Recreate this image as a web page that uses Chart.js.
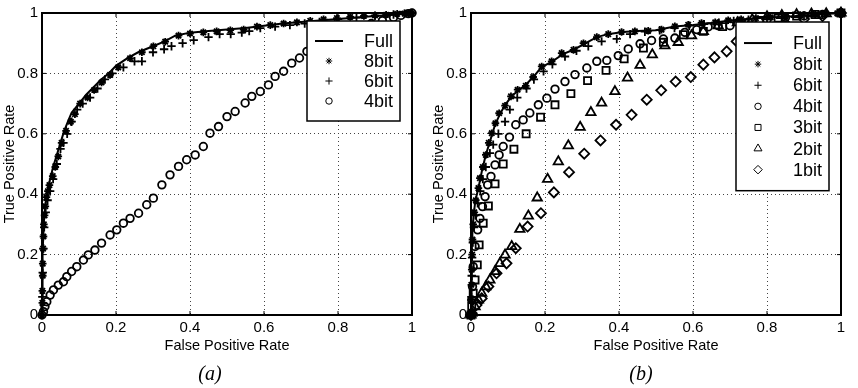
<!DOCTYPE html>
<html>
<head>
<meta charset="utf-8">
<script src="https://cdn.jsdelivr.net/npm/chart.js@4/dist/chart.umd.min.js"></script>
<style>
body { margin: 0; background: #fff; width: 858px; height: 388px; position: relative; overflow: hidden; }
.pane { position: absolute; top: 0; width: 429px; height: 388px; }
.cap { position: absolute; top: 362px; width: 60px; text-align: center; font: italic 20px "Liberation Serif", serif; color: #000; }
</style>
</head>
<body>
<div class="pane" style="left:0"><canvas id="rocA" width="429" height="388"></canvas></div>
<div class="pane" style="left:429px"><canvas id="rocB" width="429" height="388"></canvas></div>
<div class="cap" style="left:180px">(a)</div>
<div class="cap" style="left:611px">(b)</div>
<script>
// --- (a) ---
const fullA = [[0,0],[0.001,0.1],[0.002,0.2],[0.004,0.28],[0.006,0.33],[0.01,0.37],[0.015,0.41],[0.02,0.44],[0.03,0.49],[0.04,0.53],[0.05,0.57],[0.06,0.61],[0.07,0.64],[0.08,0.67],[0.1,0.7],[0.12,0.73],[0.14,0.755],[0.16,0.78],[0.18,0.8],[0.2,0.825],[0.23,0.85],[0.26,0.87],[0.3,0.89],[0.33,0.905],[0.36,0.925],[0.4,0.935],[0.45,0.94],[0.5,0.945],[0.55,0.95],[0.6,0.958],[0.65,0.965],[0.7,0.97],[0.75,0.975],[0.8,0.98],[0.85,0.985],[0.9,0.99],[0.95,0.994],[1,1]];
const bit8A = [[0,0],[0.001,0.04],[0.001,0.08],[0.002,0.13],[0.002,0.17],[0.003,0.22],[0.004,0.26],[0.005,0.3],[0.007,0.33],[0.009,0.36],[0.012,0.39],[0.016,0.41],[0.02,0.43],[0.029,0.46],[0.036,0.49],[0.044,0.525],[0.053,0.57],[0.065,0.61],[0.078,0.64],[0.089,0.665],[0.103,0.7],[0.123,0.72],[0.141,0.745],[0.161,0.77],[0.184,0.795],[0.206,0.82],[0.238,0.85],[0.27,0.87],[0.301,0.89],[0.333,0.905],[0.369,0.925],[0.4,0.932],[0.436,0.936],[0.472,0.939],[0.509,0.943],[0.545,0.945],[0.581,0.955],[0.617,0.96],[0.653,0.965],[0.689,0.969],[0.725,0.974],[0.761,0.979],[0.797,0.983],[0.833,0.987],[0.87,0.99],[0.9,0.992],[0.93,0.994],[0.96,0.997],[0.98,0.998],[0.99,0.999],[1,1]];
const bit6A = [[0,0],[0.001,0.06],[0.002,0.14],[0.004,0.22],[0.006,0.29],[0.01,0.34],[0.015,0.38],[0.022,0.41],[0.03,0.45],[0.04,0.5],[0.05,0.55],[0.058,0.57],[0.068,0.6],[0.08,0.64],[0.095,0.68],[0.11,0.7],[0.13,0.72],[0.15,0.75],[0.17,0.78],[0.19,0.8],[0.22,0.82],[0.25,0.84],[0.27,0.84],[0.3,0.87],[0.33,0.88],[0.35,0.89],[0.38,0.9],[0.41,0.91],[0.45,0.92],[0.48,0.93],[0.51,0.93],[0.54,0.935],[0.56,0.94],[0.59,0.95],[0.63,0.955],[0.67,0.96],[0.71,0.965],[0.75,0.97],[0.8,0.98],[0.85,0.985],[0.9,0.99],[0.95,0.995],[0.98,0.998],[1,1]];
const bit4A = [[0,0],[0.004,0.011],[0.008,0.028],[0.013,0.044],[0.022,0.066],[0.031,0.083],[0.044,0.099],[0.058,0.11],[0.067,0.127],[0.08,0.144],[0.094,0.16],[0.112,0.182],[0.125,0.199],[0.143,0.215],[0.161,0.238],[0.184,0.265],[0.202,0.282],[0.22,0.304],[0.238,0.32],[0.261,0.337],[0.283,0.365],[0.301,0.387],[0.324,0.431],[0.346,0.464],[0.369,0.492],[0.391,0.514],[0.414,0.53],[0.436,0.558],[0.454,0.602],[0.477,0.624],[0.5,0.657],[0.522,0.674],[0.549,0.702],[0.567,0.724],[0.59,0.74],[0.612,0.762],[0.63,0.79],[0.653,0.807],[0.675,0.834],[0.696,0.851],[0.716,0.873],[0.74,0.89],[0.77,0.91],[0.8,0.93],[0.83,0.94],[0.86,0.955],[0.89,0.965],[0.92,0.975],[0.95,0.985],[0.97,0.992],[0.99,0.998],[1,1]];

// --- (b) ---
const fullB = [[0,0],[0.001,0.1],[0.002,0.2],[0.004,0.28],[0.007,0.33],[0.012,0.38],[0.02,0.42],[0.03,0.48],[0.04,0.53],[0.05,0.57],[0.065,0.63],[0.08,0.67],[0.095,0.7],[0.11,0.725],[0.13,0.745],[0.15,0.765],[0.17,0.79],[0.19,0.82],[0.22,0.84],[0.25,0.865],[0.28,0.88],[0.31,0.9],[0.34,0.92],[0.37,0.93],[0.41,0.937],[0.45,0.94],[0.5,0.943],[0.55,0.955],[0.6,0.96],[0.65,0.967],[0.7,0.975],[0.75,0.98],[0.8,0.985],[0.85,0.988],[0.9,0.992],[0.95,0.996],[1,1]];
const bit8B = [[0,0],[0.001,0.05],[0.001,0.1],[0.002,0.15],[0.003,0.2],[0.004,0.25],[0.006,0.3],[0.009,0.34],[0.013,0.38],[0.02,0.42],[0.024,0.453],[0.032,0.49],[0.04,0.53],[0.048,0.57],[0.056,0.602],[0.066,0.635],[0.076,0.668],[0.092,0.693],[0.108,0.724],[0.126,0.746],[0.148,0.759],[0.168,0.788],[0.191,0.823],[0.218,0.84],[0.245,0.867],[0.277,0.878],[0.304,0.9],[0.34,0.92],[0.371,0.93],[0.407,0.937],[0.443,0.939],[0.479,0.941],[0.515,0.945],[0.551,0.956],[0.587,0.961],[0.623,0.967],[0.66,0.969],[0.695,0.976],[0.73,0.979],[0.77,0.983],[0.81,0.986],[0.85,0.989],[0.89,0.992],[0.93,0.995],[0.96,0.997],[0.99,0.999],[1,1]];
const bit6B = [[0,0],[0.001,0.06],[0.002,0.13],[0.003,0.19],[0.005,0.24],[0.008,0.29],[0.012,0.33],[0.018,0.37],[0.025,0.41],[0.032,0.45],[0.04,0.49],[0.051,0.536],[0.06,0.564],[0.074,0.6],[0.092,0.64],[0.105,0.68],[0.125,0.72],[0.15,0.75],[0.17,0.78],[0.196,0.807],[0.22,0.83],[0.254,0.856],[0.285,0.875],[0.317,0.89],[0.353,0.906],[0.394,0.914],[0.43,0.93],[0.47,0.938],[0.51,0.943],[0.55,0.95],[0.59,0.958],[0.63,0.963],[0.67,0.968],[0.71,0.974],[0.75,0.978],[0.8,0.984],[0.85,0.988],[0.9,0.992],[0.95,0.996],[1,1]];
const bit4B = [[0,0],[0.002,0.05],[0.004,0.094],[0.006,0.16],[0.011,0.227],[0.018,0.282],[0.024,0.32],[0.031,0.359],[0.038,0.392],[0.045,0.431],[0.054,0.459],[0.065,0.497],[0.076,0.53],[0.087,0.558],[0.104,0.589],[0.121,0.63],[0.141,0.646],[0.159,0.669],[0.182,0.696],[0.205,0.718],[0.227,0.748],[0.254,0.773],[0.281,0.796],[0.313,0.818],[0.34,0.84],[0.367,0.843],[0.398,0.859],[0.425,0.881],[0.457,0.898],[0.488,0.909],[0.52,0.914],[0.551,0.917],[0.578,0.936],[0.61,0.945],[0.641,0.954],[0.668,0.958],[0.7,0.958],[0.75,0.97],[0.8,0.978],[0.85,0.985],[0.9,0.99],[0.95,0.995],[1,1]];
const bit3B = [[0,0],[0.002,0.028],[0.006,0.072],[0.011,0.116],[0.017,0.166],[0.022,0.232],[0.033,0.304],[0.047,0.361],[0.065,0.434],[0.087,0.5],[0.116,0.549],[0.149,0.6],[0.188,0.655],[0.227,0.696],[0.27,0.733],[0.315,0.776],[0.365,0.81],[0.414,0.848],[0.466,0.884],[0.52,0.903],[0.574,0.928],[0.628,0.939],[0.68,0.955],[0.73,0.966],[0.78,0.975],[0.83,0.983],[0.88,0.99],[0.93,0.995],[1,1]];
const bit2B = [[0,0],[0.002,0.006],[0.011,0.028],[0.02,0.05],[0.029,0.072],[0.04,0.094],[0.051,0.116],[0.065,0.144],[0.078,0.171],[0.092,0.199],[0.11,0.227],[0.132,0.284],[0.155,0.328],[0.179,0.388],[0.207,0.45],[0.236,0.508],[0.263,0.561],[0.295,0.622],[0.324,0.671],[0.353,0.702],[0.389,0.74],[0.423,0.785],[0.457,0.827],[0.49,0.862],[0.524,0.892],[0.56,0.903],[0.596,0.925],[0.628,0.939],[0.668,0.958],[0.72,0.968],[0.76,0.978],[0.8,0.988],[0.84,0.992],[0.88,0.995],[0.92,0.997],[0.96,0.998],[1,1]];
const bit1B = [[0,0],[0.002,0.006],[0.015,0.033],[0.029,0.055],[0.047,0.094],[0.069,0.138],[0.096,0.171],[0.121,0.221],[0.153,0.293],[0.189,0.337],[0.224,0.406],[0.265,0.473],[0.306,0.534],[0.35,0.578],[0.392,0.63],[0.434,0.663],[0.475,0.713],[0.514,0.744],[0.553,0.773],[0.594,0.788],[0.628,0.829],[0.658,0.853],[0.691,0.873],[0.718,0.906],[0.76,0.93],[0.8,0.95],[0.85,0.965],[0.9,0.98],[0.95,0.99],[1,1]];

const axisTicks = [0, 0.2, 0.4, 0.6, 0.8, 1];

function line(label, pts) {
    return {
        label: label,
        data: pts.map(p => ({x: p[0], y: p[1]})),
        showLine: true,
        borderColor: '#000',
        borderWidth: 2,
        pointRadius: 0,
        pointHoverRadius: 0,
        legendKind: 'line'
    };
}

function marks(label, pts, style, r) {
    return {
        label: label,
        data: pts.map(p => ({x: p[0], y: p[1]})),
        showLine: false,
        pointStyle: style,
        pointRadius: r,
        pointHoverRadius: r,
        pointBorderColor: '#000',
        pointBackgroundColor: 'rgba(0,0,0,0)',
        pointBorderWidth: 1.8,
        legendKind: 'point'
    };
}

// ticks inside the box, the box itself and a boxed legend inside the plot
const matlabFrame = {
    id: 'matlabFrame',
    afterDatasetsDraw(chart, args, opts) {
        const ctx = chart.ctx;
        const a = chart.chartArea;
        const xs = chart.scales.x, ys = chart.scales.y;
        ctx.save();
        ctx.strokeStyle = '#000';
        ctx.lineWidth = 1;
        ctx.beginPath();
        axisTicks.forEach(v => {
            const px = xs.getPixelForValue(v);
            const py = ys.getPixelForValue(v);
            ctx.moveTo(px, a.bottom); ctx.lineTo(px, a.bottom - 4);
            ctx.moveTo(px, a.top); ctx.lineTo(px, a.top + 4);
            ctx.moveTo(a.left, py); ctx.lineTo(a.left + 4, py);
            ctx.moveTo(a.right, py); ctx.lineTo(a.right - 4, py);
        });
        ctx.stroke();
        ctx.lineWidth = 2;
        ctx.strokeRect(a.left, a.top, a.right - a.left, a.bottom - a.top);

        // legend
        const n = chart.data.datasets.length;
        const lx = opts.left, ly = opts.top, lw = opts.width;
        const lh = opts.pad * 2 + opts.rowH * n;
        ctx.fillStyle = '#fff';
        ctx.fillRect(lx, ly, lw, lh);
        ctx.lineWidth = 1.5;
        ctx.strokeRect(lx, ly, lw, lh);
        ctx.font = '18px "Liberation Sans", Arial, sans-serif';
        ctx.textAlign = 'right';
        ctx.textBaseline = 'middle';
        chart.data.datasets.forEach((ds, i) => {
            const cy = ly + opts.pad + opts.rowH * (i + 0.5);
            ctx.fillStyle = '#000';
            ctx.fillText(ds.label, lx + lw - 7, cy + 1);
            ctx.strokeStyle = '#000';
            if (ds.legendKind === 'line') {
                ctx.lineWidth = 2;
                ctx.beginPath();
                ctx.moveTo(lx + 8, cy); ctx.lineTo(lx + 36, cy);
                ctx.stroke();
            } else {
                ctx.lineWidth = 1;
                ctx.fillStyle = 'rgba(0,0,0,0)';
                Chart.helpers.drawPoint(ctx, {
                    pointStyle: ds.pointStyle,
                    radius: ds.pointRadius * 0.85,
                    rotation: 0,
                    borderWidth: 1
                }, lx + 22, cy);
            }
        });
        ctx.restore();
    }
};

const font = { family: '"Liberation Sans", Arial, sans-serif', size: 15 };
const titleFont = { family: '"Liberation Sans", Arial, sans-serif', size: 14.5 };

function makeChart(id, datasets, legendOpts) {
    return new Chart(document.getElementById(id).getContext('2d'), {
        type: 'scatter',
        data: { datasets: datasets },
        options: {
            responsive: false,
            animation: false,
            clip: false,
            layout: { padding: { left: 0, right: 17, top: 12, bottom: 33 } },
            plugins: {
                legend: { display: false },
                tooltip: { enabled: false },
                matlabFrame: legendOpts
            },
            scales: {
                x: {
                    type: 'linear', min: 0, max: 1,
                    afterFit: s => { s.height = 40; },
                    afterBuildTicks: s => { s.ticks = axisTicks.map(v => ({value: v})); },
                    ticks: { color: '#000', padding: 4, maxRotation: 0, font: font,
                             callback: v => String(v) },
                    grid: { color: '#444', lineWidth: 1, drawTicks: false },
                    border: { display: false, dash: [1, 3] },
                    title: { display: true, text: 'False Positive Rate', color: '#000', padding: 0, font: titleFont }
                },
                y: {
                    type: 'linear', min: 0, max: 1,
                    afterFit: s => { s.width = 42; },
                    afterBuildTicks: s => { s.ticks = axisTicks.map(v => ({value: v})); },
                    ticks: { color: '#000', padding: 4, font: font,
                             callback: v => String(v) },
                    grid: { color: '#444', lineWidth: 1, drawTicks: false },
                    border: { display: false, dash: [1, 3] },
                    title: { display: true, text: 'True Positive Rate', color: '#000',
                             padding: { top: 1, bottom: 0 }, font: titleFont }
                }
            }
        },
        plugins: [matlabFrame]
    });
}

makeChart('rocA', [
    line('Full', fullA),
    marks('8bit', bit8A, 'star', 3.8),
    marks('6bit', bit6A, 'cross', 4.2),
    marks('4bit', bit4A, 'circle', 3.8)
], { left: 307, top: 21, width: 93, rowH: 20, pad: 10 });

makeChart('rocB', [
    line('Full', fullB),
    marks('8bit', bit8B, 'star', 3.8),
    marks('6bit', bit6B, 'cross', 4.2),
    marks('4bit', bit4B, 'circle', 3.8),
    marks('3bit', bit3B, 'rect', 5),
    marks('2bit', bit2B, 'triangle', 5.4),
    marks('1bit', bit1B, 'rectRot', 5)
], { left: 307, top: 22, width: 93, rowH: 21.1, pad: 10.5 });
</script>
</body>
</html>
